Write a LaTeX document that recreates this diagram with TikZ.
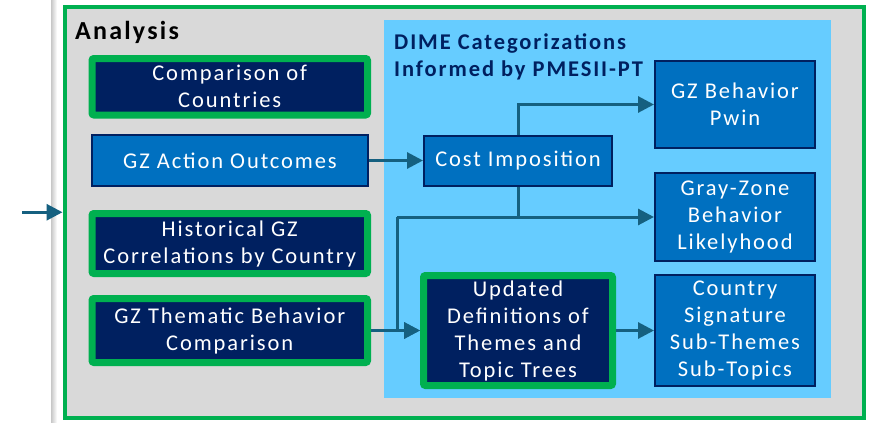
\documentclass[tikz,border=0pt]{standalone}
\usepackage{fontspec}
\setmainfont{Carlito}[LetterSpace=8.5]
\usetikzlibrary{arrows.meta}
\definecolor{navy}{RGB}{0,32,96}
\definecolor{mblue}{RGB}{0,112,192}
\definecolor{grn}{RGB}{0,176,80}
\definecolor{lblue}{RGB}{102,204,255}
\definecolor{panelgray}{RGB}{217,217,217}
\definecolor{arrc}{RGB}{21,96,128}
\tikzset{
  gbox/.style={fill=navy, draw=grn, line width=7pt, rounded corners=2pt, text=white, align=center, inner sep=0pt, font=\fontsize{22.5}{27}\selectfont},
  bbox/.style={fill=mblue, draw=navy, line width=2pt, text=white, align=center, inner sep=0pt, font=\fontsize{22.5}{27}\selectfont},
  arr/.style={draw=arrc, line width=3pt, -{Triangle[length=16pt,width=16pt]}},
  ln/.style={draw=arrc, line width=3pt},
}
\begin{document}
\begin{tikzpicture}[x=1pt,y=-1pt]
\useasboundingbox (0,0) rectangle (871,423);
\fill[white] (0,0) rectangle (871,423);
\shade[left color=black!22, right color=white] (51,0) rectangle (57,423);
% outer frame
\node[draw=grn, fill=panelgray, line width=4pt, minimum width=799pt, minimum height=411.5pt, inner sep=0pt] (frame) at (464,212.25) {};
\node[anchor=west, font=\bfseries\fontsize{26}{30}\selectfont, inner sep=0pt] (title) at (75,32) {Analysis};
% DIME panel
\node[fill=lblue, minimum width=447pt, minimum height=378pt, inner sep=0pt] (panel) at (607.5,209) {};
\node[anchor=west, align=left, text=navy, font=\bfseries\fontsize{22.5}{27}\selectfont, inner sep=0pt] (dime) at (394,56.5) {DIME Categorizations\\Informed by PMESII-PT};
% left column
\node[gbox, minimum width=275.5pt, minimum height=56.5pt] (comp) at (229.75,86.75) {Comparison of\\Countries};
\node[bbox, minimum width=276pt, minimum height=51pt] (act) at (230,160.5) {GZ Action Outcomes};
\node[gbox, minimum width=275.5pt, minimum height=60pt] (hist) at (229.75,243.5) {Historical GZ\\Correlations by Country};
\node[gbox, minimum width=275.5pt, minimum height=64pt] (them) at (229.75,330.5) {GZ Thematic Behavior\\Comparison};
% middle column
\node[bbox, minimum width=188pt, minimum height=50pt] (cost) at (518,161) {Cost Imposition};
\node[gbox, minimum width=189pt, minimum height=110pt] (upd) at (518,330.5) {Updated\\Definitions of\\Themes and\\Topic Trees};
% right column
\node[bbox, minimum width=160pt, minimum height=87pt] (pwin) at (735,104.5) {GZ Behavior\\Pwin};
\node[bbox, minimum width=160pt, minimum height=88pt] (gray) at (735,217) {Gray-Zone\\Behavior\\Likelyhood};
\node[bbox, minimum width=160pt, minimum height=111pt] (ctry) at (735,330.5) {Country\\Signature\\Sub-Themes\\Sub-Topics};
% connectors
\coordinate (in) at (22,212.25);
\draw[arr] (in) -- (frame.west);
\draw[arr] (act.east) -- (act.east -| cost.west);
\draw[arr] (cost.north) |- (pwin.west);
\draw[arr] (cost.south) |- (gray.west);
\coordinate (bend) at (397,217);
\draw[ln] (cost.south |- gray.west) -- (bend);
\draw[arr] (bend) |- (upd.west);
\draw[arr] (them.east) -- (upd.west);
\draw[arr] (upd.east) -- (ctry.west);
\end{tikzpicture}
\end{document}
